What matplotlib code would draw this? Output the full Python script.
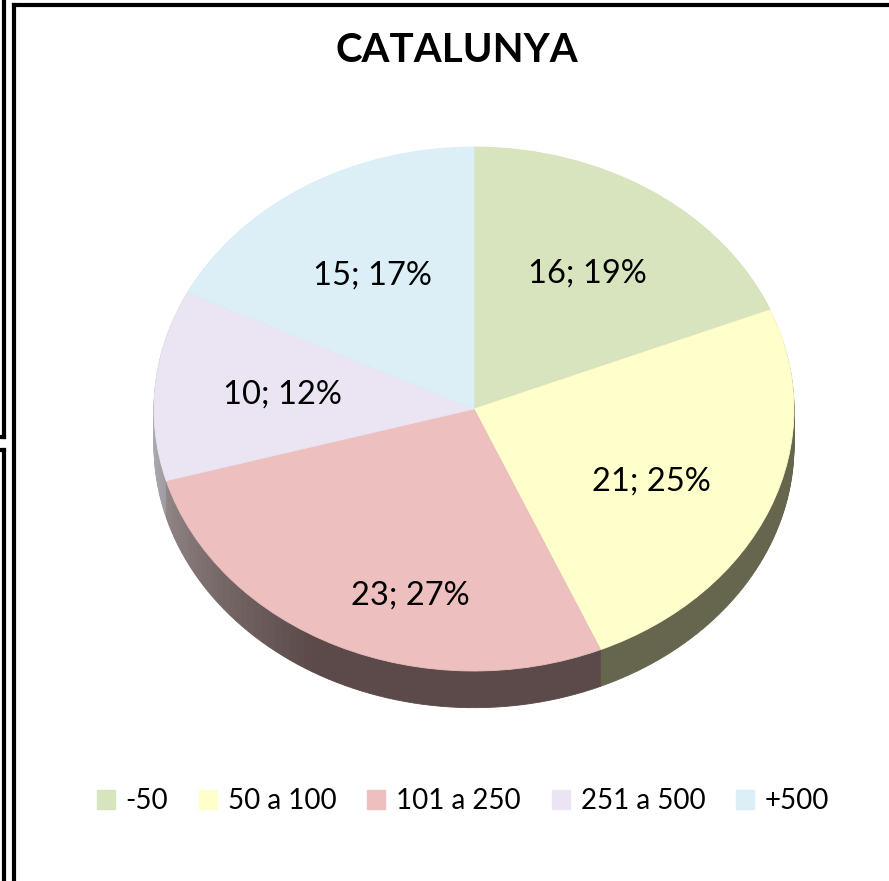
import matplotlib
matplotlib.use("Agg")
import matplotlib.pyplot as plt
import numpy as np
from matplotlib.patches import Rectangle
from matplotlib.lines import Line2D
from matplotlib.colors import to_rgb

# data
categories = ["-50", "50 a 100", "101 a 250", "251 a 500", "+500"]
values = [16, 21, 23, 10, 15]
percents = [19, 25, 27, 12, 17]

top_colors = ["#D7E4BD", "#FFFFCC", "#EDBFBF", "#EBE4F2", "#DCEFF7"]
side_colors = ["#6B7358", "#66664F", "#5C4A4A", "#716B78", "#677379"]

plt.rcParams['font.family'] = ['Liberation Sans Narrow', 'Lato', 'DejaVu Sans']

fig = plt.figure(figsize=(8.89, 8.81), dpi=100)
W, H = 889, 881

# frame lines like the sheet borders
def fline(x0, y0, x1, y1, lw=3):
    fig.add_artist(Line2D([x0 / W, x1 / W], [1 - y0 / H, 1 - y1 / H],
                          color="black", lw=lw, transform=fig.transFigure))

fline(4, 0, 4, 437)
fline(0, 437, 4, 437)
fline(4, 450, 4, 881)
fline(0, 450, 4, 450)
fline(14, 881, 14, 5)
fline(14, 5, 889, 5)

# pie axes: x radius 320px, y radius 262px, extra room below for the side
left, right = 154, 794
top, yr = 147, 262
depth = 0.14
ylow = -1.0 - depth - 0.05
bottom_px = top + yr * (1 - ylow)
ax = fig.add_axes([left / W, 1 - bottom_px / H, (right - left) / W, (bottom_px - top) / H])

# side wall: each slice cut in thin pieces so the left part can be lighter
n = 60
sub_vals, sub_cols = [], []
total = sum(values)
acc = 0.0
for v, c in zip(values, side_colors):
    base = np.array(to_rgb(c))
    for k in range(n):
        mid = acc + v * (k + 0.5) / n
        theta = (90 - mid / total * 360) % 360
        f = np.clip((240 - theta) / 60, 0, 1) * 0.45 if theta >= 170 else 0
        sub_vals.append(v / n)
        sub_cols.append(tuple(base + (1 - base) * f))
    acc += v

steps = 30
for i in range(steps, 0, -1):
    d = depth * i / steps
    side, _ = ax.pie(sub_vals, colors=sub_cols, startangle=90, counterclock=False,
                     center=(0, -d), radius=1, wedgeprops=dict(linewidth=0.6))
    for w in side:
        w.set_edgecolor(w.get_facecolor())

wedges, texts = ax.pie(values, colors=top_colors, startangle=90, counterclock=False,
                       center=(0, 0), radius=1, wedgeprops=dict(linewidth=0.6),
                       labels=[f"{v}; {p}%" for v, p in zip(values, percents)],
                       labeldistance=0.6)
for w in wedges:
    w.set_edgecolor(w.get_facecolor())
for t in texts:
    t.set_ha("center")
    t.set_va("center")
    t.set_fontsize(23.5)
x, y = texts[0].get_position()
texts[0].set_position((x + 0.02, y + 0.02))
x, y = texts[2].get_position()
texts[2].set_position((x + 0.06, y - 0.17))
x, y = texts[1].get_position()
texts[1].set_position((x, y - 0.05))

ax.set_xlim(-1, 1)
ax.set_ylim(ylow, 1)
ax.set_aspect("auto")
ax.axis("off")

fig.text(457 / W, 1 - 50 / H, "CATALUNYA", ha="center", va="center",
         fontsize=29, fontweight="bold")

handles = [Rectangle((0, 0), 1, 1, color=c) for c in top_colors]
fig.legend(handles, categories, loc="center", bbox_to_anchor=(463 / W, 1 - 801 / H),
           ncol=5, frameon=False, fontsize=20, handlelength=0.65, handleheight=0.65,
           handletextpad=0.4, columnspacing=1.1)

fig.savefig("out.png", dpi=100)
